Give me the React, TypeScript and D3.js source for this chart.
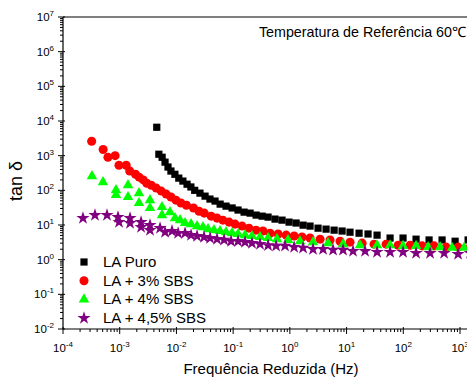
import React from "react";
import * as d3 from "d3";

// LA Puro
const puroF = [4.5e-3, 4.9e-3, 5.6e-3, 6.3e-3, 7.1e-3, 8.0e-3, 9.4e-3, 0.011, 0.013, 0.0154, 0.018, 0.021, 0.026, 0.032, 0.039, 0.048, 0.059, 0.075, 0.096, 0.122, 0.156, 0.199, 0.254, 0.324, 0.413, 0.548, 0.728, 0.968, 1.29, 1.71, 2.27, 3.14, 4.35, 6.03, 8.34, 11.5, 16.6, 23.9, 34.5, 58.5, 99, 168, 285, 483, 820, 1390];
const puroV = [6600, 1100, 900, 650, 470, 360, 290, 225, 185, 150, 125, 100, 83, 68, 56, 49, 40, 35, 31, 27, 23.5, 22, 19.3, 18, 16.9, 14.8, 13.8, 12.1, 11.4, 9.9, 9.3, 8.1, 7.6, 7.1, 6.7, 6.2, 5.8, 5.5, 5.1, 4.2, 4.2, 3.9, 3.7, 3.7, 3.4, 3.7];

// LA + 3% SBS
const sbs3F = [3.2e-4, 5.1e-4, 6.2e-4, 8.3e-4, 9.7e-4, 1.3e-3, 1.5e-3, 1.9e-3, 2.2e-3, 2.6e-3, 3.0e-3, 3.6e-3, 4.4e-3, 5.4e-3, 6.6e-3, 8.0e-3, 9.8e-3, 0.012, 0.015, 0.020, 0.025, 0.031, 0.041, 0.052, 0.066, 0.085, 0.108, 0.144, 0.19, 0.254, 0.336, 0.448, 0.62, 0.86, 1.19, 1.64, 2.27, 3.41, 5.12, 7.68, 11.5, 18.8, 30.5, 49.8, 81, 132, 215, 349, 569, 925, 1510];
const sbs3V = [2600, 1500, 900, 1000, 530, 530, 360, 290, 240, 200, 160, 140, 116, 95, 78, 64, 52, 43, 37, 31, 25, 22, 18, 15.8, 13.8, 12.1, 10.6, 9.3, 8.1, 7.1, 6.7, 5.8, 5.5, 5.1, 4.8, 4.5, 4.2, 3.9, 3.7, 3.4, 3.2, 3.0, 2.8, 2.8, 2.6, 2.6, 2.5, 2.5, 2.3, 2.3, 2.3];

// LA + 4% SBS
const sbs4F = [3.24e-4, 5.07e-4, 8.6e-4, 8.6e-4, 1.4e-3, 1.4e-3, 2.19e-3, 2.19e-3, 3.42e-3, 3.42e-3, 5.57e-3, 5.57e-3, 7.7e-3, 9.44e-3, 0.0116, 0.0142, 0.0181, 0.0231, 0.0294, 0.0361, 0.046, 0.0587, 0.075, 0.0958, 0.122, 0.162, 0.215, 0.298, 0.413, 0.594, 0.929, 1.51, 2.56, 4.72, 8.67, 17.3, 34.5, 58.5, 99, 168, 274, 446, 726, 1180];
const sbs4V = [256, 172, 101, 73, 141, 64, 83, 43, 52, 31, 33, 19.3, 23.5, 15.8, 13.8, 11.4, 10.6, 9.3, 8.7, 7.6, 7.1, 6.7, 6.2, 5.8, 5.5, 5.1, 4.8, 4.5, 4.2, 3.9, 3.7, 3.4, 3.2, 3.0, 2.8, 2.6, 2.6, 2.6, 2.5, 2.5, 2.3, 2.3, 2.2, 2.2];

// LA + 4,5% SBS
const sbs45F = [2.25e-4, 3.66e-4, 5.97e-4, 9.33e-4, 9.73e-4, 1.52e-3, 1.52e-3, 2.38e-3, 2.38e-3, 3.42e-3, 3.42e-3, 5.14e-3, 6.3e-3, 8.36e-3, 0.0107, 0.0142, 0.0181, 0.0231, 0.0307, 0.0392, 0.052, 0.0692, 0.0919, 0.122, 0.162, 0.215, 0.298, 0.413, 0.572, 0.822, 1.19, 1.71, 2.56, 3.85, 5.78, 8.67, 13.0, 21.2, 34.5, 58.5, 99, 168, 297, 525, 925, 1510];
const sbs45V = [15.8, 19.3, 19.3, 16.9, 12.1, 15.8, 11.4, 12.1, 8.7, 9.9, 7.1, 8.1, 6.2, 6.7, 5.8, 5.8, 5.1, 4.8, 4.5, 4.2, 3.9, 3.7, 3.4, 3.4, 3.2, 3.0, 2.8, 2.6, 2.5, 2.5, 2.3, 2.2, 2.0, 2.0, 1.9, 1.9, 1.77, 1.77, 1.66, 1.66, 1.66, 1.55, 1.55, 1.55, 1.45, 1.55];

const seriesNames = ["LA Puro", "LA + 3% SBS", "LA + 4% SBS", "LA + 4,5% SBS"];
const xExponents = [-4, -3, -2, -1, 0, 1, 2, 3];
const yExponents = [-2, -1, 0, 1, 2, 3, 4, 5, 6, 7];
const titleText = "Temperatura de Referência 60\u2103";
const xTitle = "Frequência Reduzida (Hz)";
const yTitle = "tan δ";

const W = 467, H = 378;
const left = 63, top = 17, bottom = 329, rightEdge = 520;
const FONT = "Arial, 'Liberation Sans', sans-serif";

export default function App() {
  const x = d3.scaleLog().domain([1e-4, 1e3]).range([left, 460]);
  const y = d3.scaleLog().domain([1e-2, 1e7]).range([bottom, top]);

  const series = [
    { f: puroF, v: puroV, color: "#000000", sym: d3.symbolSquare, size: 52 },
    { f: sbs3F, v: sbs3V, color: "#ff0000", sym: d3.symbolCircle, size: 64 },
    { f: sbs4F, v: sbs4V, color: "#00ff00", sym: d3.symbolTriangle, size: 48 },
    { f: sbs45F, v: sbs45V, color: "#800080", sym: d3.symbolStar, size: 54 },
  ];

  const xMinor: number[] = [];
  for (let e = -4; e < 4; e++) for (let k = 2; k <= 9; k++) xMinor.push(k * Math.pow(10, e));
  const yMinor: number[] = [];
  for (let e = -2; e < 7; e++) for (let k = 2; k <= 9; k++) yMinor.push(k * Math.pow(10, e));

  return (
    <svg width={W} height={H} style={{ position: "absolute", left: 0, top: 0 }} fontFamily={FONT}>
      <rect x={0} y={0} width={W} height={H} fill="#fff" />
      <defs>
        <clipPath id="plotClip">
          <rect x={left} y={top} width={rightEdge - left} height={bottom - top} />
        </clipPath>
      </defs>
      {/* frame */}
      <line x1={left} x2={rightEdge} y1={top} y2={top} stroke="#000" strokeWidth={1.2} />
      <line x1={left} x2={rightEdge} y1={bottom} y2={bottom} stroke="#000" strokeWidth={1.2} />
      <line x1={left} x2={left} y1={top} y2={bottom} stroke="#000" strokeWidth={1.2} />

      {/* x ticks */}
      {xExponents.map((e) => (
        <line key={"xt" + e} x1={x(Math.pow(10, e))} x2={x(Math.pow(10, e))} y1={bottom - 2} y2={bottom + 5} stroke="#000" />
      ))}
      {xMinor.map((v, i) => (
        <line key={"xm" + i} x1={x(v)} x2={x(v)} y1={bottom} y2={bottom + 3} stroke="#000" />
      ))}
      {xExponents.map((e) => (
        <text key={"xl" + e} x={x(Math.pow(10, e))} y={352} textAnchor="middle" fontSize={11.5}>
          10<tspan dy={-5} fontSize={8}>{e}</tspan>
        </text>
      ))}

      {/* y ticks */}
      {yExponents.map((e) => (
        <line key={"yt" + e} x1={left - 5} x2={left + 2} y1={y(Math.pow(10, e))} y2={y(Math.pow(10, e))} stroke="#000" />
      ))}
      {yMinor.map((v, i) => (
        <line key={"ym" + i} x1={left - 3} x2={left} y1={y(v)} y2={y(v)} stroke="#000" />
      ))}
      {yExponents.map((e) => (
        <text key={"yl" + e} x={54} y={y(Math.pow(10, e)) + 4} textAnchor="end" fontSize={11.5}>
          10<tspan dy={-5} fontSize={8}>{e}</tspan>
        </text>
      ))}

      {/* data */}
      <g clipPath="url(#plotClip)">
        {series.map((s, si) =>
          s.f.map((f, i) => (
            <path
              key={si + "-" + i}
              d={d3.symbol(s.sym, s.size)() as string}
              transform={`translate(${x(f)},${y(s.v[i])})`}
              fill={s.color}
            />
          ))
        )}
      </g>

      {/* legend */}
      {series.map((s, i) => (
        <g key={"lg" + i}>
          <path d={d3.symbol(s.sym, s.size)() as string} transform={`translate(84,${262 + i * 18.7})`} fill={s.color} />
          <text x={103} y={267 + i * 18.7} fontSize={15}>{seriesNames[i]}</text>
        </g>
      ))}

      <text x={466} y={37} textAnchor="end" fontSize={14.3}>{titleText}</text>
      <text x={271} y={374} textAnchor="middle" fontSize={15}>{xTitle}</text>
      <text transform="translate(22,181) rotate(-90)" textAnchor="middle" fontSize={18}>{yTitle}</text>
    </svg>
  );
}
